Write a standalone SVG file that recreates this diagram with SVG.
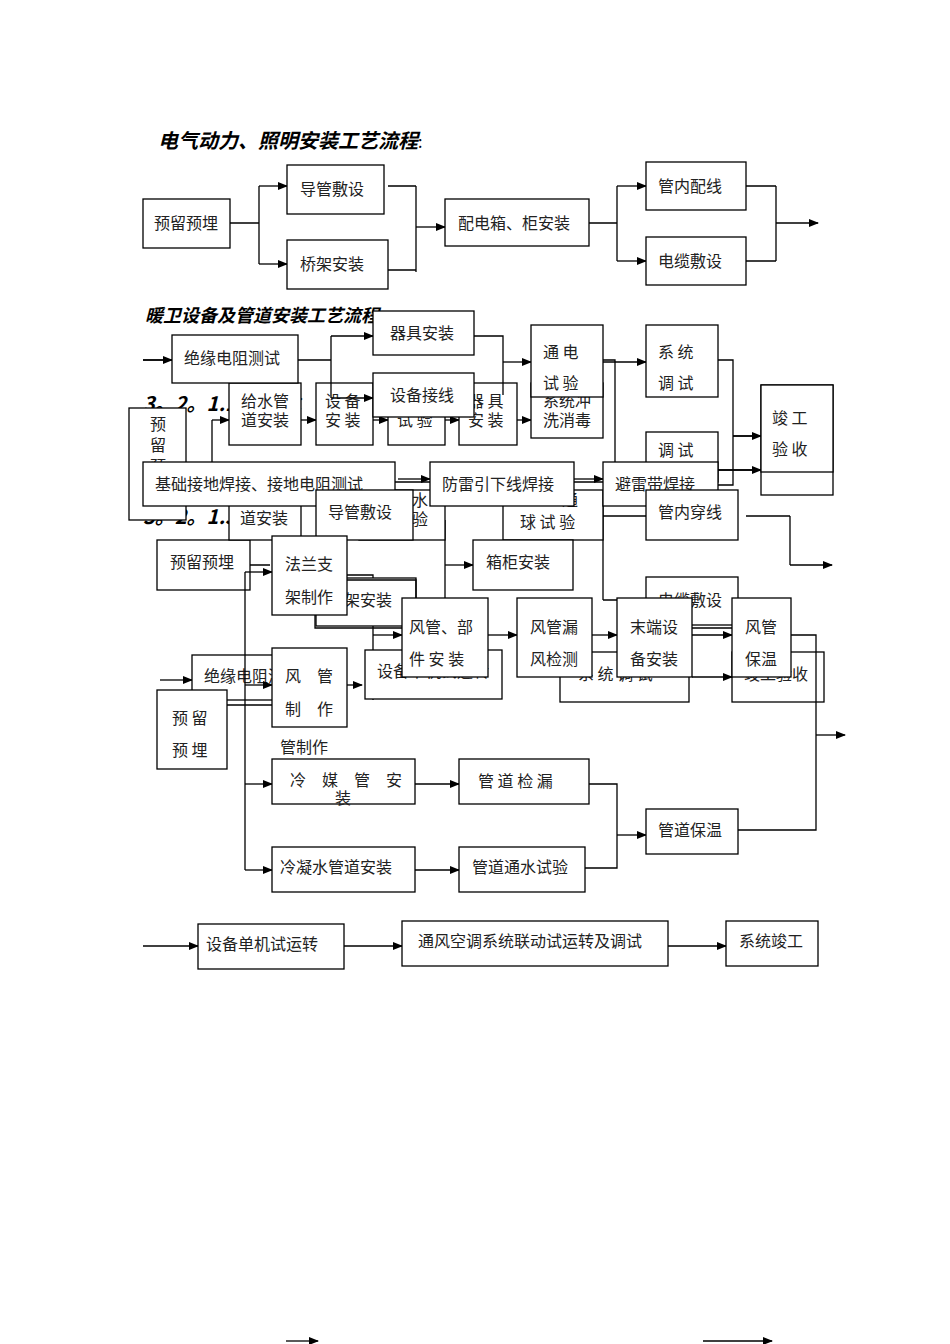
<svg xmlns="http://www.w3.org/2000/svg" width="950" height="1344" viewBox="0 0 950 1344">
<defs>
<marker id="a" markerWidth="10" markerHeight="8" refX="9" refY="4" orient="auto" markerUnits="userSpaceOnUse"><path d="M0,0 L10,4 L0,8 z" fill="#000"/></marker>
<style>
rect{fill:#fff;stroke:#000;stroke-width:1.3}
text{font-family:"Noto Sans CJK SC","Liberation Serif",serif;font-size:16px;fill:#222}
.h{font-weight:bold;font-style:italic;font-size:20px;fill:#000}
.c path,.c line{fill:none;stroke:#000;stroke-width:1.3}
.m{marker-end:url(#a)}
</style>
</defs>
<rect x="0" y="0" width="950" height="1344" style="stroke:none"/>
<text class="h" x="158" y="148">电气动力、照明安装工艺流程<tspan style="font-size:16px;font-style:normal;font-weight:normal">:</tspan></text>
<g class="c">
<path d="M230,223 H259 M259,186 V264 M388,186 H416 M388,270 H416 M416,186 V272 M589,223 H617 M617,186 V261 M746,186 H776 M746,261 H776 M776,186 V261"/>
<line class="m" x1="259" y1="186" x2="287" y2="186"/><line class="m" x1="259" y1="264" x2="287" y2="264"/>
<line class="m" x1="416" y1="227" x2="445" y2="227"/>
<line class="m" x1="617" y1="186" x2="646" y2="186"/><line class="m" x1="617" y1="261" x2="646" y2="261"/>
<line class="m" x1="776" y1="223" x2="818" y2="223"/>
</g>
<g id="n1"><rect x="143" y="199" width="87" height="49"/><text x="154" y="229">预留预埋</text></g>
<g id="n2"><rect x="287" y="165" width="97" height="49"/><text x="300" y="195">导管敷设</text></g>
<g id="n3"><rect x="287" y="240" width="101" height="49"/><text x="300" y="270">桥架安装</text></g>
<g id="n4"><rect x="445" y="199" width="144" height="47"/><text x="458" y="229">配电箱、柜安装</text></g>
<g id="n5"><rect x="646" y="162" width="100" height="48"/><text x="658" y="192">管内配线</text></g>
<g id="n6"><rect x="646" y="237" width="100" height="48"/><text x="658" y="267">电缆敷设</text></g>

<text class="h" x="145" y="322" style="font-size:18px">暖卫设备及管道安装工艺流程</text>
<text class="h" x="143" y="411">3。2。1.1 给排水</text>
<text class="h" x="143" y="524">3。2。1.3 安装</text>

<g class="c">
<path d="M250,565 H270 M347,575 H373 V700 M445,520 V680 M603,490 V600 M603,516 H646 M603,600 H646 M790,516 V565"/>
<line class="m" x1="445" y1="565" x2="473" y2="565"/>
<line class="m" x1="790" y1="565" x2="832" y2="565"/>
<line class="m" x1="160" y1="680" x2="192" y2="680"/>
</g>
<g id="b1"><rect x="157" y="540" width="93" height="50"/><text x="170" y="568">预留预埋</text></g>
<g id="b2"><rect x="229" y="500" width="72" height="40"/><text x="240" y="524">道安装</text></g>
<g id="b3"><rect x="359" y="490" width="86" height="50"/><text x="412" y="506">水</text><text x="412" y="525">验</text></g>
<g id="b4"><rect x="503" y="490" width="100" height="50"/><text x="520" y="528">球 试 验</text><text x="562" y="506">通</text></g>
<g id="b5"><rect x="316" y="578" width="100" height="48"/><text x="344" y="606">架安装</text></g>
<g id="b6"><rect x="473" y="540" width="100" height="50"/><text x="486" y="568">箱柜安装</text></g>
<g id="b7"><rect x="646" y="577" width="92" height="48"/><text x="658" y="606">电缆敷设</text></g>
<g id="b8"><rect x="192" y="655" width="126" height="45"/><text x="204" y="682">绝缘电阻测试</text></g>
<g id="b9"><rect x="365" y="650" width="137" height="49"/><text x="377" y="677">设备单机试运转</text></g>
<g id="b10"><rect x="560" y="652" width="129" height="50"/><text x="578" y="680">系 统 调 试</text></g>
<g id="b11"><rect x="732" y="652" width="92" height="50"/><text x="744" y="680">竣工验收</text></g>

<g class="c">
<path d="M186,465 H212 V420 M603,360 H615 V470"/>
<line class="m" x1="212" y1="420" x2="229" y2="420"/>
<line class="m" x1="301" y1="420" x2="316" y2="420"/>
<line class="m" x1="373" y1="420" x2="388" y2="420"/>
<line class="m" x1="445" y1="420" x2="459" y2="420"/>
<line class="m" x1="517" y1="420" x2="531" y2="420"/>
</g>
<g id="p1"><rect x="129" y="408" width="57" height="112"/><text x="150" y="430">预</text><text x="150" y="451">留</text><text x="150" y="472">预</text></g>
<g id="p2"><rect x="229" y="383" width="72" height="62"/><text x="241" y="407">给水管</text><text x="241" y="426">道安装</text></g>
<g id="p3"><rect x="316" y="383" width="57" height="62"/><text x="325" y="407">设 备</text><text x="325" y="426">安 装</text></g>
<g id="p4"><rect x="388" y="383" width="57" height="62"/><text x="397" y="426">试 验</text></g>
<g id="p5"><rect x="459" y="383" width="58" height="62"/><text x="468" y="407">器 具</text><text x="468" y="426">安 装</text></g>
<g id="p6"><rect x="531" y="383" width="72" height="55"/><text x="543" y="407">系统冲</text><text x="543" y="426">洗消毒</text></g>
<g id="p7"><rect x="761" y="385" width="72" height="110"/><text x="772" y="470">验收</text></g>
<g id="p8"><rect x="646" y="432" width="72" height="50"/><text x="658" y="456">调 试</text></g>

<g class="c">
<path d="M143,360 H172 M298,360 H331 V336 M331,360 V398 M474,336 H503 V395 M718,360 H733 V485 H718 M733,436 H752 M718,470 H752"/>
<line class="m" x1="143" y1="360" x2="172" y2="360"/>
<line class="m" x1="331" y1="336" x2="373" y2="336"/>
<line class="m" x1="331" y1="398" x2="373" y2="398"/>
<line class="m" x1="503" y1="362" x2="531" y2="362"/>
<line class="m" x1="603" y1="362" x2="646" y2="362"/>
<line class="m" x1="733" y1="436" x2="761" y2="436"/>
<line class="m" x1="718" y1="470" x2="761" y2="470"/>
</g>
<g id="e1"><rect x="172" y="335" width="126" height="48"/><text x="184" y="364">绝缘电阻测试</text></g>
<g id="e2"><rect x="373" y="311" width="101" height="44"/><text x="390" y="339">器具安装</text></g>
<g id="e3"><rect x="373" y="373" width="101" height="44"/><text x="390" y="401">设备接线</text></g>
<g id="e4"><rect x="531" y="325" width="72" height="72"/><text x="543" y="358">通 电</text><text x="543" y="389">试 验</text></g>
<g id="e5"><rect x="646" y="325" width="72" height="72"/><text x="658" y="358">系 统</text><text x="658" y="389">调 试</text></g>
<g id="e6"><rect x="761" y="385" width="72" height="87"/><text x="772" y="424">竣 工</text><text x="772" y="455">验 收</text></g>

<g class="c">
<path d="M395,482 H430 M574,482 H603"/>
<line class="m" x1="398" y1="479" x2="430" y2="479"/>
<line class="m" x1="574" y1="479" x2="603" y2="479"/>
</g>
<g id="l1"><rect x="143" y="462" width="252" height="44"/><text x="155" y="490">基础接地焊接、接地电阻测试</text></g>
<g id="l2"><rect x="430" y="462" width="144" height="44"/><text x="442" y="490">防雷引下线焊接</text></g>
<g id="l3"><rect x="603" y="462" width="115" height="44"/><text x="615" y="490">避雷带焊接</text></g>
<g id="l4"><rect x="316" y="490" width="97" height="50"/><text x="328" y="518">导管敷设</text></g>
<g id="l5"><rect x="646" y="490" width="92" height="50"/><text x="658" y="518">管内穿线</text></g>
<g class="c"><path d="M746,516 H790"/></g>

<g class="c">
<path d="M227,705 H272 M245,572 V870 M347,580 H416 V598 M315,615 V628 H402 M691,628 H732 M791,635 H816 V830 H738 M589,784 H617 V835 M585,868 H617 V835"/>
<line class="m" x1="245" y1="572" x2="272" y2="572"/>
<line class="m" x1="245" y1="685" x2="272" y2="685"/>
<line class="m" x1="373" y1="635" x2="402" y2="635"/>
<line class="m" x1="347" y1="685" x2="362" y2="685"/>
<line class="m" x1="488" y1="635" x2="517" y2="635"/>
<line class="m" x1="592" y1="635" x2="617" y2="635"/>
<line class="m" x1="692" y1="635" x2="732" y2="635"/>
<line class="m" x1="692" y1="677" x2="732" y2="677"/>
<line class="m" x1="816" y1="735" x2="845" y2="735"/>
<line class="m" x1="245" y1="784" x2="272" y2="784"/>
<line class="m" x1="245" y1="870" x2="272" y2="870"/>
<line class="m" x1="415" y1="784" x2="459" y2="784"/>
<line class="m" x1="415" y1="870" x2="459" y2="870"/>
<line class="m" x1="617" y1="835" x2="646" y2="835"/>
<line class="m" x1="143" y1="946" x2="198" y2="946"/>
<line class="m" x1="344" y1="946" x2="402" y2="946"/>
<line class="m" x1="668" y1="946" x2="726" y2="946"/>
<line class="m" x1="286" y1="1341" x2="318" y2="1341"/>
<line class="m" x1="703" y1="1341" x2="772" y2="1341"/>
</g>
<g id="h1"><rect x="272" y="536" width="75" height="79"/><text x="285" y="570">法兰支</text><text x="285" y="603">架制作</text></g>
<g id="h2"><rect x="272" y="648" width="75" height="79"/><text x="285" y="682">风　管</text><text x="285" y="715">制　作</text></g>
<g id="h3"><rect x="157" y="690" width="70" height="79"/><text x="172" y="724">预 留</text><text x="172" y="756">预 埋</text></g>
<g id="h4"><rect x="402" y="598" width="86" height="79"/><text x="409" y="633">风管、部</text><text x="409" y="665">件 安 装</text></g>
<g id="h5"><rect x="517" y="598" width="75" height="79"/><text x="530" y="633">风管漏</text><text x="530" y="665">风检测</text></g>
<g id="h6"><rect x="617" y="598" width="75" height="79"/><text x="630" y="633">末端设</text><text x="630" y="665">备安装</text></g>
<g id="h7"><rect x="732" y="598" width="59" height="79"/><text x="745" y="633">风管</text><text x="745" y="665">保温</text></g>
<text x="280" y="753">管制作</text>
<g id="h8"><rect x="272" y="759" width="143" height="45"/><text x="290" y="786">冷　媒　管　安</text><text x="335" y="804">装</text></g>
<g id="h9"><rect x="459" y="759" width="130" height="45"/><text x="478" y="787">管 道 检 漏</text></g>
<g id="h10"><rect x="272" y="847" width="143" height="45"/><text x="280" y="873">冷凝水管道安装</text></g>
<g id="h11"><rect x="459" y="847" width="126" height="45"/><text x="472" y="873">管道通水试验</text></g>
<g id="h12"><rect x="646" y="809" width="92" height="45"/><text x="658" y="836">管道保温</text></g>
<g id="h13"><rect x="198" y="924" width="146" height="45"/><text x="206" y="950">设备单机试运转</text></g>
<g id="h14"><rect x="402" y="921" width="266" height="45"/><text x="418" y="947">通风空调系统联动试运转及调试</text></g>
<g id="h15"><rect x="726" y="921" width="92" height="45"/><text x="739" y="947">系统竣工</text></g>
</svg>
